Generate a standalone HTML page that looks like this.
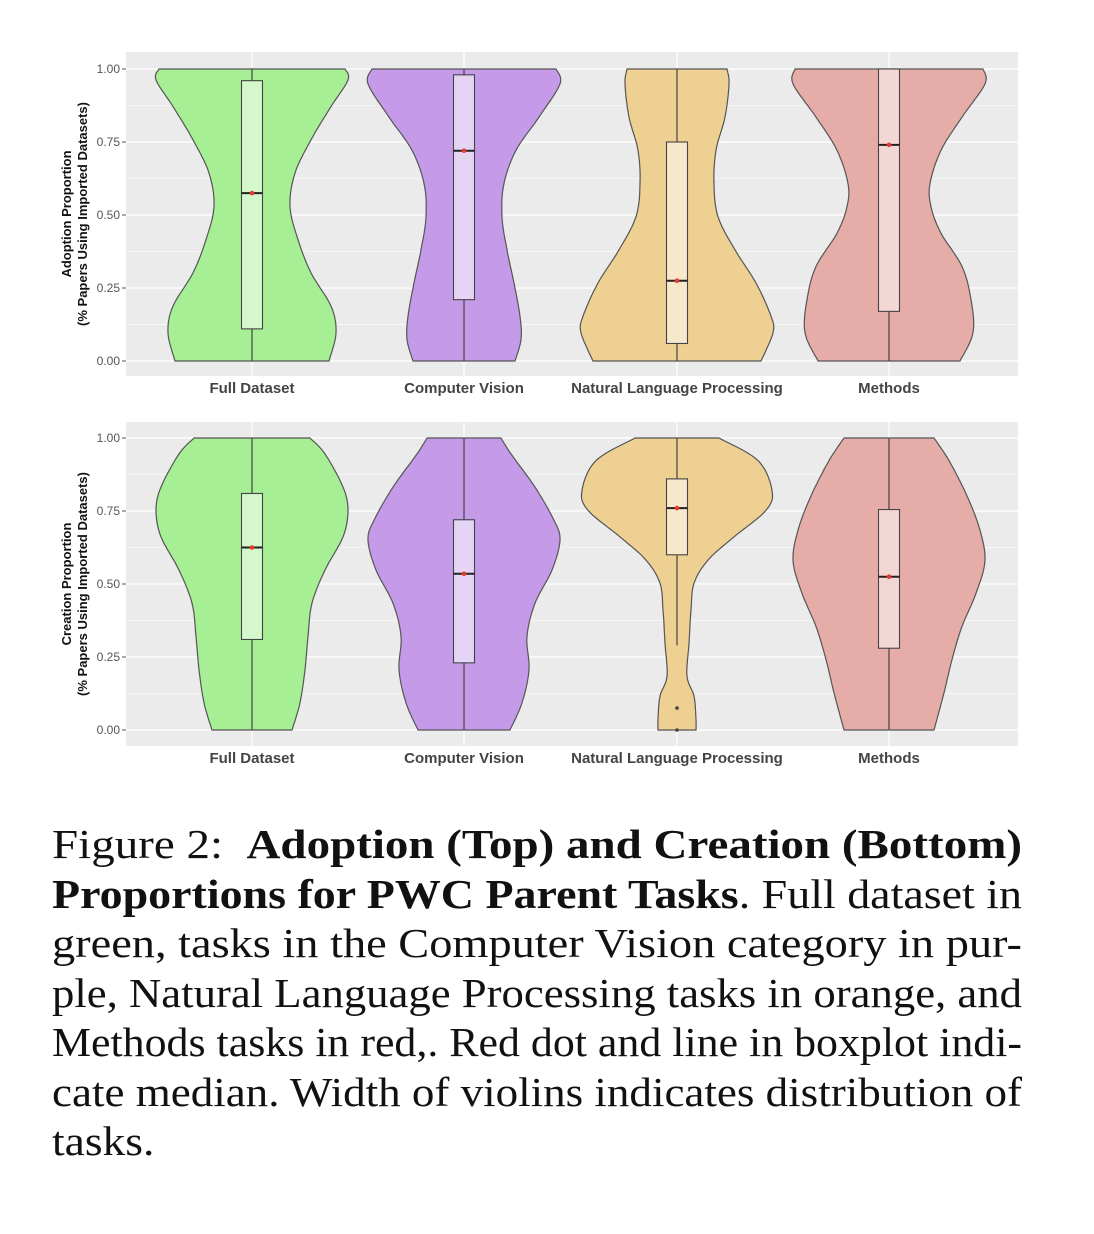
<!DOCTYPE html>
<html><head><meta charset="utf-8"><style>
body{margin:0;background:#fff;width:1094px;height:1234px;overflow:hidden;position:relative}
svg{position:absolute;left:0;top:0}
.cap{position:absolute;left:52px;top:820px;font-family:"Liberation Serif",serif;font-size:41px;color:#111}
.cap div{height:49.5px;line-height:49.5px;white-space:nowrap;transform-origin:0 50%}
.cap div span{display:inline-block}
</style></head><body>
<svg id="s" width="1094" height="800" xmlns="http://www.w3.org/2000/svg" font-family="Liberation Sans, sans-serif"></svg>
<div class="cap" id="cap">
<div><span>Figure 2: &nbsp;<b>Adoption (Top) and Creation (Bottom)</b></span></div>
<div><span><b>Proportions for PWC Parent Tasks</b>. Full dataset in</span></div>
<div><span>green, tasks in the Computer Vision category in pur-</span></div>
<div><span>ple, Natural Language Processing tasks in orange, and</span></div>
<div><span>Methods tasks in red,. Red dot and line in boxplot indi-</span></div>
<div><span>cate median. Width of violins indicates distribution of</span></div>
<div><span>tasks.</span></div>
</div>
<script>
var s=document.getElementById('s'),h='';
var cols=[['#a6ef94','#d4f8cb'],['#c49ae9','#e6d4f5'],['#edd092','#f7e8cb'],['#e6aca8','#f3d7d5']];
var cx=[252,464,677,889];
function cv(arr,top,bot){var n=bot-top;return arr.map(function(q){return [(bot-q[0])/n,q[1]]});}
var panels=[{y1:69,y0:361,top:52,bot:376,lab:['Adoption Proportion','(% Papers Using Imported Datasets)'],
v:[
cv([[87,93],[120,96],[200,79],[300,59],[400,43],[500,38],[600,46],[700,59],[800,79],[880,84],[965,77]],87,965),
cv([[55,92],[100,96],[200,75],[300,52],[400,40],[500,38],[600,43],[700,50],[800,56],[870,57],[935,51]],55,935),
cv([[55,50],[100,52],[200,48],[300,39],[400,37],[500,41],[600,58],[700,79],[800,94],[850,96],[935,84]],55,935),
cv([[55,94],[100,96],[200,73],[300,52],[400,41],[470,42],[550,52],[650,73],[750,82],[850,84],[935,71]],55,935)],
b:[[.11,.96,.575],[.21,.98,.72],[.06,.75,.275],[.17,1,.74]],w:[[0,1],[0,1],[0,1],[0,1]],o:[[],[],[],[]]},
{y1:438,y0:730,top:422,bot:746,lab:['Creation Proportion','(% Papers Using Imported Datasets)'],
v:[
cv([[52,58],[100,73],[200,91],[270,96],[350,91],[450,73],[550,60],[650,56],[750,53],[850,48],[932,40]],52,932),
cv([[52,37],[100,47],[200,71],[300,90],[360,96],[450,88],[550,71],[650,63],[750,65],[850,58],[932,46]],52,932),
cv([[82,42],[150,81],[240,95],[300,89],[380,57],[450,31],[520,17],[600,14],[700,12],[800,10],[860,17],[930,19],[962,19]],82,962),
cv([[82,45],[150,60],[250,77],[350,90],[450,96],[550,87],[650,73],[750,63],[850,55],[962,45]],82,962)],
b:[[.31,.81,.625],[.23,.72,.535],[.6,.86,.76],[.28,.755,.525]],w:[[0,1],[0,1],[.29,1],[0,1]],o:[[],[],[.075,0],[]]}];
function Y(p,v){return p.y0+(p.y1-p.y0)*v}
panels.forEach(function(p){
 h+='<rect x="126" y="'+p.top+'" width="892" height="'+(p.bot-p.top)+'" fill="#ebebeb"/>';
 for(var t=0;t<=8;t++){var yy=Y(p,t/8);h+='<line x1="126" x2="1018" y1="'+yy+'" y2="'+yy+'" stroke="#fff" stroke-width="'+(t%2?0.6:1.2)+'"/>';}
 cx.forEach(function(c){h+='<line x1="'+c+'" x2="'+c+'" y1="'+p.top+'" y2="'+p.bot+'" stroke="#fff" stroke-width="1.2"/>';});
 for(var t=0;t<=4;t++){var yy=Y(p,t/4);h+='<text x="120" y="'+(yy+4)+'" font-size="12" fill="#555" text-anchor="end">'+(t/4).toFixed(2)+'</text><line x1="122" x2="126" y1="'+yy+'" y2="'+yy+'" stroke="#555"/>';}
 var my=(p.top+p.bot)/2;
 h+='<text transform="translate(71,'+my+') rotate(-90)" font-size="13" font-weight="bold" text-anchor="middle" fill="#111">'+p.lab[0]+'</text>';
 h+='<text transform="translate(87,'+my+') rotate(-90)" font-size="13" font-weight="bold" text-anchor="middle" fill="#111">'+p.lab[1]+'</text>';
 ['Full Dataset','Computer Vision','Natural Language Processing','Methods'].forEach(function(n,i){h+='<text x="'+cx[i]+'" y="'+(p.bot+17)+'" font-size="15" font-weight="bold" fill="#444" text-anchor="middle">'+n+'</text>';});
 p.v.forEach(function(pr,i){
  var c=cx[i];
  var pts=pr.map(function(q){return [q[1],Y(p,q[0])]});
  var dense=[];
  for(var k=0;k<pts.length-1;k++){var p0=pts[Math.max(k-1,0)],p1=pts[k],p2=pts[k+1],p3=pts[Math.min(k+2,pts.length-1)];
   for(var s2=0;s2<10;s2++){var t=s2/10,t2=t*t,t3=t2*t;
    var f=function(a,b,cc,d){return 0.5*((2*b)+(-a+cc)*t+(2*a-5*b+4*cc-d)*t2+(-a+3*b-3*cc+d)*t3)};
    dense.push([f(p0[0],p1[0],p2[0],p3[0]),f(p0[1],p1[1],p2[1],p3[1])]);}}
  dense.push(pts[pts.length-1]);
  var d='M'+dense.map(function(q){return (c+q[0]).toFixed(1)+','+q[1].toFixed(1)}).join('L');
  d+='L'+dense.slice().reverse().map(function(q){return (c-q[0]).toFixed(1)+','+q[1].toFixed(1)}).join('L')+'Z';
  h+='<path d="'+d+'" fill="'+cols[i][0]+'" stroke="#555" stroke-width="1.2"/>';
  var b=p.b[i],w=p.w[i];
  h+='<line x1="'+c+'" x2="'+c+'" y1="'+Y(p,w[1])+'" y2="'+Y(p,w[0])+'" stroke="#444" stroke-width="1.2"/>';
  h+='<rect x="'+(c-10.5)+'" y="'+Y(p,b[1])+'" width="21" height="'+(Y(p,b[0])-Y(p,b[1]))+'" fill="'+cols[i][1]+'" stroke="#444" stroke-width="1.1"/>';
  h+='<line x1="'+(c-10.5)+'" x2="'+(c+10.5)+'" y1="'+Y(p,b[2])+'" y2="'+Y(p,b[2])+'" stroke="#222" stroke-width="2"/>';
  h+='<circle cx="'+c+'" cy="'+Y(p,b[2])+'" r="2.3" fill="#e8392a"/>';
  p.o[i].forEach(function(o){h+='<circle cx="'+c+'" cy="'+Y(p,o)+'" r="1.8" fill="#444"/>';});
 });
});
s.innerHTML=h;
var lines=document.querySelectorAll('#cap div'),sum=0,n=0;
for(var i=0;i<lines.length-1;i++){var w=lines[i].firstChild.getBoundingClientRect().width;var k=970/w;sum+=k;n++;lines[i].style.transform='scaleX('+k+')';}
var last=lines[lines.length-1];last.style.transform='scaleX('+(sum/n)+')';
</script>
</body></html>
